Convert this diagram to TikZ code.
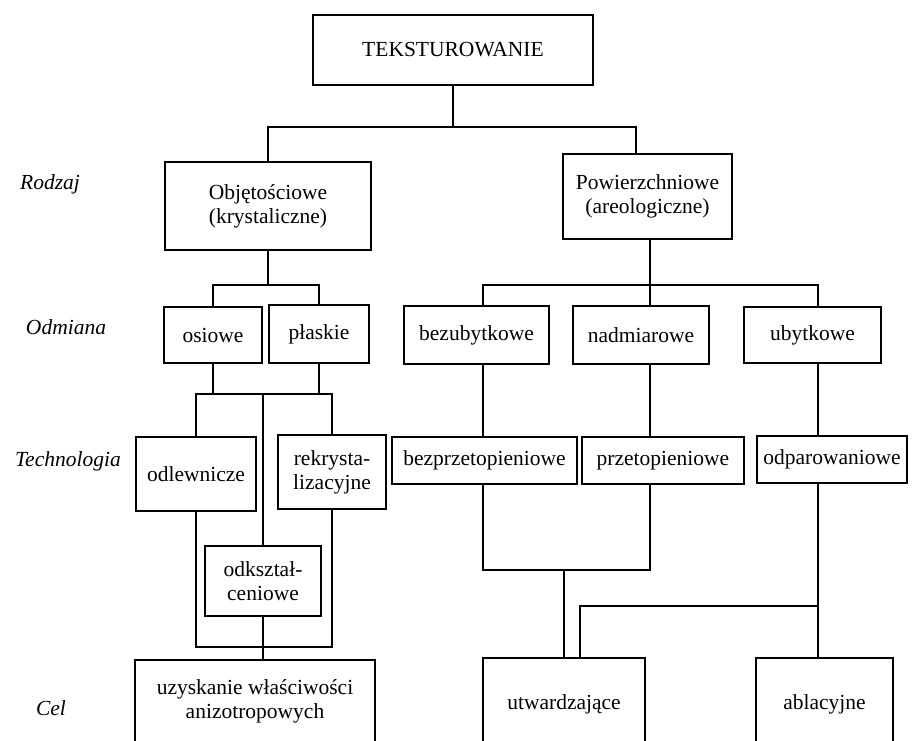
\documentclass[tikz,border=0pt]{standalone}
\usepackage{fontspec}
\setmainfont{Liberation Serif}

\begin{document}
\begin{tikzpicture}
	[line join=miter,line width=1.5pt,x=1pt,y=-1pt,
	 box/.style={draw,rectangle,align=center,inner sep=0pt,font=\fontsize{21.5}{24}\selectfont},
	 lbl/.style={font=\fontsize{21.5}{24}\selectfont\itshape}]
	\useasboundingbox (0,0) rectangle (912,740);
	\clip (0,0) rectangle (912,740);
	% levels
	\node[lbl] (rodzaj) at (50,184) {Rodzaj};
	\node[lbl] (odmiana) at (66,327) {Odmiana};
	\node[lbl] (technologia) at (68,461) {Technologia};
	\node[lbl] (cel) at (51,708) {Cel};
	% boxes
	\node[box,minimum width=280,minimum height=70] (teks) at (453,50) {TEKSTUROWANIE};
	\node[box,minimum width=206,minimum height=88] (obj) at (268,206) {Objętościowe\\(krystaliczne)};
	\node[box,minimum width=169,minimum height=85] (pow) at (647.5,196.5) {Powierzchniowe\\(areologiczne)};
	\node[box,minimum width=98,minimum height=56] (osiowe) at (213,335) {osiowe};
	\node[box,minimum width=100,minimum height=58] (plaskie) at (319,334) {płaskie};
	\node[box,minimum width=145,minimum height=58] (bezub) at (476.5,335) {bezubytkowe};
	\node[box,minimum width=136,minimum height=58] (nadm) at (641,335) {nadmiarowe};
	\node[box,minimum width=137,minimum height=56] (ubyt) at (812.5,335) {ubytkowe};
	\node[box,minimum width=120,minimum height=74] (odlew) at (196,474) {odlewnicze};
	\node[box,minimum width=108,minimum height=74] (rekry) at (332,472) {rekrysta-\\lizacyjne};
	\node[box,minimum width=185,minimum height=47] (bezprz) at (484.5,460.5) {bezprzetopieniowe};
	\node[box,minimum width=162,minimum height=47] (przet) at (663,460.5) {przetopieniowe};
	\node[box,minimum width=150,minimum height=47] (odpar) at (832,459.5) {odparowaniowe};
	\node[box,minimum width=116,minimum height=70] (odksz) at (263,581) {odkształ-\\ceniowe};
	\node[box,minimum width=240,minimum height=90] (uzysk) at (255,705) {uzyskanie właściwości\\anizotropowych\\[-12pt]\mbox{}};
	\node[box,minimum width=162,minimum height=92] (utw) at (564,704) {utwardzające};
	\node[box,minimum width=137,minimum height=92] (abl) at (824.5,704) {ablacyjne};
	% rails and columns
	\coordinate (r1) at (0,127);
	\coordinate (r2) at (0,285);
	\coordinate (r3) at (0,570);
	\coordinate (r4) at (0,606);
	\coordinate (r5) at (0,394);
	\coordinate (r6) at (0,647);
	\coordinate (cB) at (483,0);
	\coordinate (cN) at (650,0);
	\coordinate (cU) at (818,0);
	\coordinate (cW) at (580,0);
	\coordinate (cP) at (636,0);
	% top
	\draw (teks.south) -- (teks.south |- r1);
	\draw (obj.north) |- (cP |- r1) -- (pow.north -| cP);
	% volume branch
	\draw (obj.south) -- (obj.south |- r2);
	\draw (osiowe.north) |- (plaskie.north |- r2) -- (plaskie.north);
	\draw (osiowe.south) -- (osiowe.south |- r5);
	\draw (plaskie.south) -- (plaskie.south |- r5);
	\draw (odlew.north) |- (rekry.north |- r5) -- (rekry.north);
	\draw (odksz.north |- r5) -- (odksz.north);
	\draw (odlew.south) |- (rekry.south |- r6) -- (rekry.south);
	\draw (odksz.south) -- (odksz.south |- uzysk.north);
	% surface branch
	\draw (pow.south -| cN) -- (nadm.north -| cN);
	\draw (bezub.north -| cB) -- (cB |- r2) -- (cU |- r2) -- (ubyt.north -| cU);
	\draw (bezub.south -| cB) -- (bezprz.north -| cB);
	\draw (nadm.south -| cN) -- (przet.north -| cN);
	\draw (ubyt.south -| cU) -- (odpar.north -| cU);
	\draw (bezprz.south -| cB) -- (cB |- r3) -- (cN |- r3) -- (przet.south -| cN);
	\draw (utw.north |- r3) -- (utw.north);
	\draw (odpar.south -| cU) -- (abl.north -| cU);
	\draw (cU |- r4) -| (utw.north -| cW);
\end{tikzpicture}
\end{document}
